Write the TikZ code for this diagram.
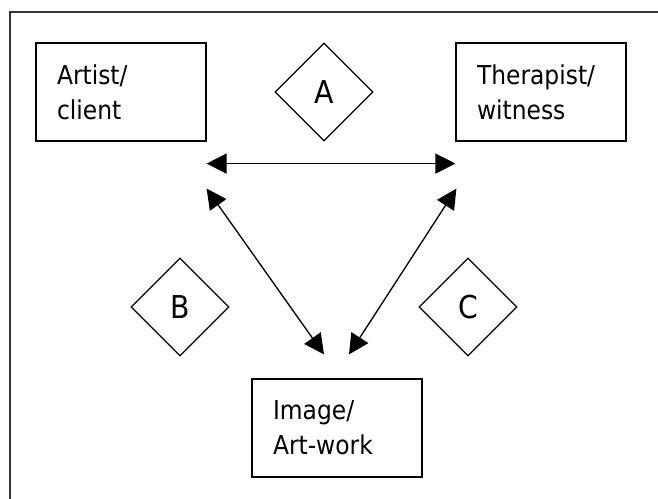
\documentclass[tikz,border=0pt]{standalone}
\usepackage{fontspec}
\setmainfont{DejaVu Sans}[FakeStretch=0.9]
\usetikzlibrary{shapes.geometric,arrows.meta}

\tikzset{every picture/.style={line width=0.75pt}}
\tikzset{
  rolebox/.style={draw, rectangle, line width=0.9pt, minimum width=127.5pt, minimum height=73.5pt,
    text width=96pt, inner xsep=15.75pt, inner ysep=0pt, align=left,
    font=\fontsize{19.5}{26.25}\selectfont},
  linkdiam/.style={draw, diamond, aspect=1, line width=0.9pt, minimum width=73.5pt, minimum height=73.5pt,
    inner sep=0pt, font=\fontsize{23.6}{28}\selectfont},
  twoway/.style={line width=1pt, {Triangle[length=15pt,width=15pt]}-{Triangle[length=15pt,width=15pt]}}
}

\begin{document}
\begin{tikzpicture}[x=0.75pt,y=0.75pt,yscale=-1,xscale=1]
\useasboundingbox (0,0) rectangle (658,499);

%Frame
\draw [line width=1.7pt, color=black!80] (10,499) -- (10,12) -- (658,12) ;

% Boxes
\node [rolebox] (artist) at (121,92) {Artist/\\client};
\node [rolebox] (therapist) at (541,92) {Therapist/\\witness};
\node [rolebox] (image) at (337,428) {Image/\\Art-work};

% Diamonds
\node [linkdiam] (diamA) at (324,92) {A};
\node [linkdiam] (diamB) at (180,307) {B};
\node [linkdiam] (diamC) at (468,307) {C};

% Arrow ends
\coordinate (artistTop) at ([yshift=16.5pt]artist.south east);
\coordinate (therapistTop) at ([yshift=16.5pt]therapist.south west);
\coordinate (artistLow) at ([yshift=35.25pt]artist.south east);
\coordinate (therapistLow) at ([shift={(0.75pt,35.25pt)}]therapist.south west);
\coordinate (imageLeft) at ([shift={(-9.75pt,-18pt)}]image.north);
\coordinate (imageRight) at ([shift={(9pt,-18pt)}]image.north);

% Arrows
\draw [twoway] (artistTop) -- (therapistTop) ;
\draw [twoway] (artistLow) -- (imageLeft) ;
\draw [twoway] (therapistLow) -- (imageRight) ;

\end{tikzpicture}
\end{document}
